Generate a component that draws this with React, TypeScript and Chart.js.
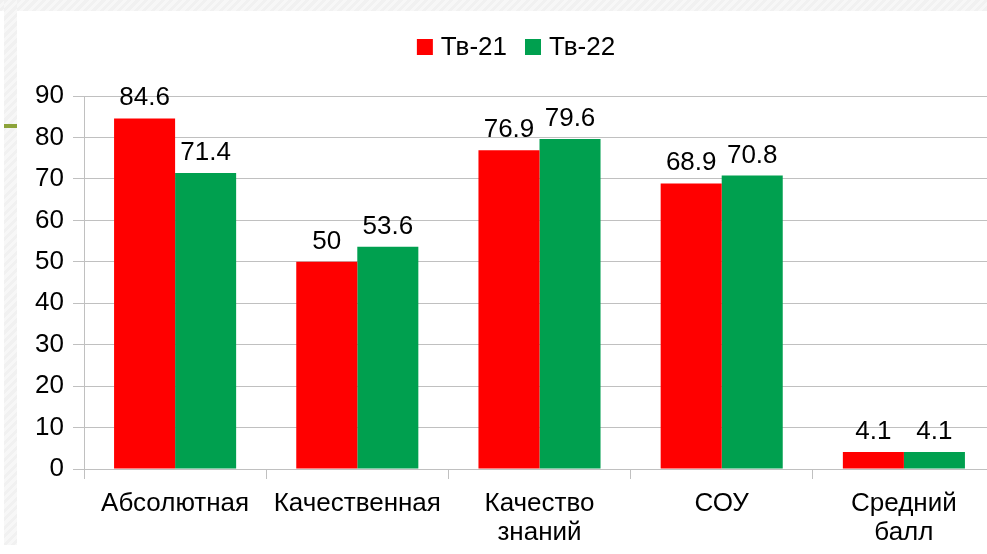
import React, { useEffect, useRef } from "react";
import { Chart, registerables } from "chart.js";

Chart.register(...registerables);

const categories: (string | string[])[] = [
  "Абсолютная",
  "Качественная",
  ["Качество", "знаний"],
  "СОУ",
  ["Средний", "балл"],
];
const seriesNames = ["Тв-21", "Тв-22"];
const tv21 = [84.6, 50, 76.9, 68.9, 4.1];
const tv22 = [71.4, 53.6, 79.6, 70.8, 4.1];
const yTicks = [0, 10, 20, 30, 40, 50, 60, 70, 80, 90];

const RED = "#ff0000";
const GREEN = "#00a04f";
const FONT = "'Liberation Sans', Arial, sans-serif";
const FSIZE = 26;

const dataLabels = {
  id: "dataLabels",
  afterDatasetsDraw(chart: any) {
    const ctx = chart.ctx;
    ctx.save();
    ctx.font = `${FSIZE}px ${FONT}`;
    ctx.fillStyle = "#000";
    ctx.textAlign = "center";
    ctx.textBaseline = "alphabetic";
    chart.data.datasets.forEach((ds: any, i: number) => {
      const meta = chart.getDatasetMeta(i);
      meta.data.forEach((bar: any, j: number) => {
        const v = ds.data[j];
        ctx.fillText(String(v), bar.x, bar.y - 13);
      });
    });
    ctx.restore();
  },
};

const customLegend = {
  id: "customLegend",
  afterDraw(chart: any) {
    const ctx = chart.ctx;
    ctx.save();
    ctx.font = `${FSIZE}px ${FONT}`;
    ctx.textBaseline = "middle";
    ctx.textAlign = "left";
    const box = 16;
    const gap = 8;
    const itemGap = 18;
    const items = chart.data.datasets.map((ds: any) => ({
      label: ds.label,
      color: ds.backgroundColor,
      w: box + gap + ctx.measureText(ds.label).width,
    }));
    const total = items.reduce((s: number, it: any) => s + it.w, 0) + itemGap * (items.length - 1);
    const cx = 499;
    const cy = 36;
    let x = cx - total / 2;
    items.forEach((it: any) => {
      ctx.fillStyle = it.color;
      ctx.fillRect(x, cy - box / 2, box, box);
      ctx.fillStyle = "#000";
      ctx.fillText(it.label, x + box + gap, cy + 1);
      x += it.w + itemGap;
    });
    ctx.restore();
  },
};

export default function App() {
  const ref = useRef<HTMLCanvasElement | null>(null);

  useEffect(() => {
    if (!ref.current) return;
    const chart = new Chart(ref.current, {
      type: "bar",
      data: {
        labels: categories as any,
        datasets: [
          { label: seriesNames[0], data: tv21, backgroundColor: RED, borderWidth: 0 },
          { label: seriesNames[1], data: tv22, backgroundColor: GREEN, borderWidth: 0 },
        ],
      },
      options: {
        responsive: false,
        animation: false,
        devicePixelRatio: 1,
        layout: { padding: { top: 85, right: 2, left: 0, bottom: 0 } },
        plugins: { legend: { display: false }, tooltip: { enabled: false } },
        datasets: { bar: { categoryPercentage: 0.67, barPercentage: 1 } },
        scales: {
          x: {
            grid: {
              offset: true,
              drawOnChartArea: false,
              tickLength: 10,
              color: "#c0c0c0",
              lineWidth: 1,
            },
            border: { color: "#c0c0c0", width: 1 },
            ticks: {
              color: "#000",
              font: { family: FONT, size: FSIZE, lineHeight: 1.1 },
              padding: 11,
              maxRotation: 0,
              autoSkip: false,
            },
            afterFit: (scale: any) => {
              scale.height = 76;
            },
          },
          y: {
            min: 0,
            max: 90,
            afterBuildTicks: (scale: any) => {
              scale.ticks = yTicks.map((v) => ({ value: v }));
            },
            grid: { color: "#c0c0c0", tickLength: 11, lineWidth: 1 },
            border: { color: "#c0c0c0", width: 1 },
            ticks: {
              color: "#000",
              font: { family: FONT, size: FSIZE },
              padding: 9,
            },
            afterFit: (scale: any) => {
              scale.width = 67;
            },
          },
        },
      },
      plugins: [dataLabels, customLegend],
    });
    return () => chart.destroy();
  }, []);

  const stripe =
    "repeating-linear-gradient(135deg, #f1f1f1 0px, #f1f1f1 3px, #f7f7f7 3px, #f7f7f7 6px)";

  return (
    <div
      style={{
        position: "fixed",
        left: 0,
        top: 0,
        width: 987,
        height: 554,
        overflow: "hidden",
        background: "#ffffff",
      }}
    >
      <div style={{ position: "absolute", left: 0, top: 0, width: 987, height: 11, background: stripe }} />
      <div style={{ position: "absolute", left: 4, top: 0, width: 13, height: 545, background: stripe }} />
      <div style={{ position: "absolute", left: 4, top: 124, width: 13, height: 4, background: "#8ca33a" }} />
      <canvas
        ref={ref}
        width={980}
        height={534}
        style={{ position: "absolute", left: 17, top: 11, width: 980, height: 534 }}
      />
    </div>
  );
}
